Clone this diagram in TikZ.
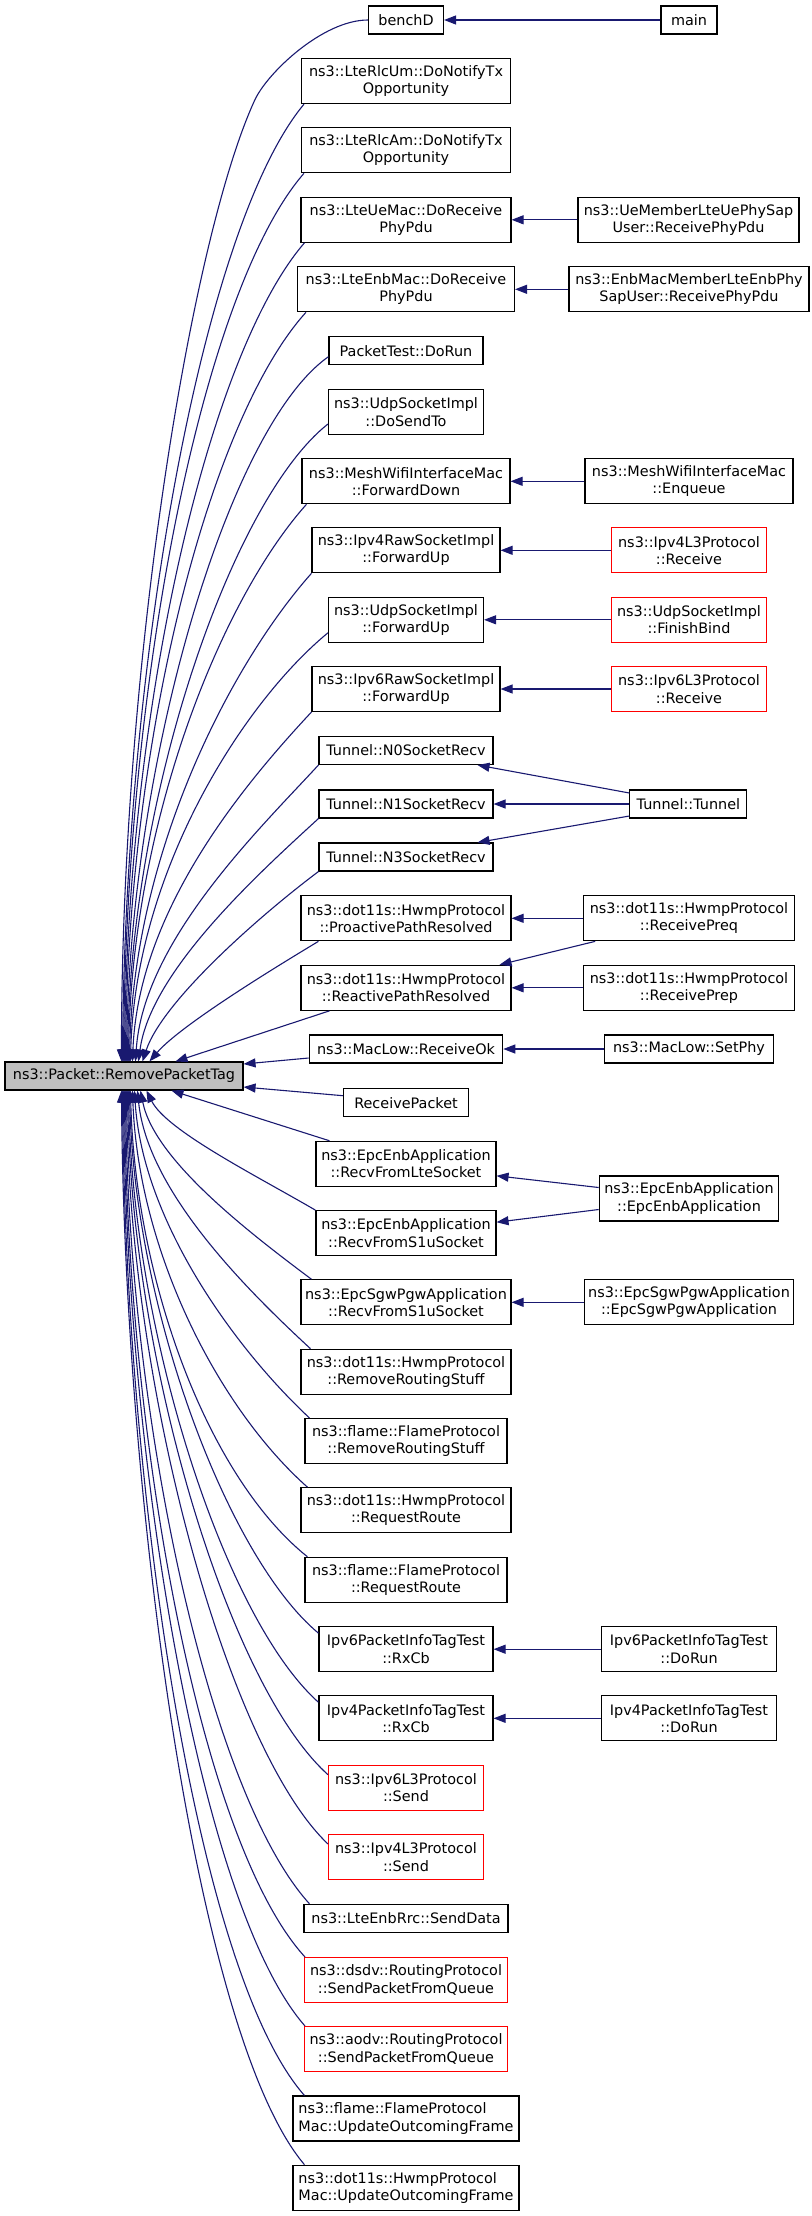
\documentclass[tikz,border=0pt]{standalone}
\usepackage{fontspec}
\setmainfont{DejaVu Sans}
\usetikzlibrary{arrows.meta,calc}
\definecolor{edgecol}{HTML}{191970}
\definecolor{redbox}{HTML}{FF0000}
\definecolor{mainfill}{HTML}{BFBFBF}
\begin{document}
\begin{tikzpicture}[x=1pt,y=-1pt,
  every node/.style={font=\fontsize{14.4pt}{17.3pt}\selectfont},
  fbox/.style={draw=black, line width=1.1pt, fill=white, inner sep=0pt, align=center, minimum height=28pt},
  tbox/.style={fbox, minimum height=45pt},
  rbox/.style={tbox, draw=redbox},
  mainbox/.style={fbox, fill=mainfill},
  edge/.style={draw=edgecol, line width=1.1pt, -{Triangle[length=12pt,width=9pt]}}]
\useasboundingbox (0,0) rectangle (811,2216);
% ---- left
\node[mainbox, minimum width=238pt] (main) at (124,1076) {ns3::Packet::RemovePacketTag};
% ---- middle column
\node[fbox, minimum width=75pt] (bench) at (406,20) {benchD};
\node[tbox, minimum width=209pt] (rlcum) at (406,81.2) {ns3::LteRlcUm::DoNotifyTx\\Opportunity};
\node[tbox, minimum width=209pt] (rlcam) at (406,150.3) {ns3::LteRlcAm::DoNotifyTx\\Opportunity};
\node[tbox, minimum width=210pt] (uemac) at (406,219.8) {ns3::LteUeMac::DoReceive\\PhyPdu};
\node[tbox, minimum width=217pt] (enbmac) at (406,289.3) {ns3::LteEnbMac::DoReceive\\PhyPdu};
\node[fbox, minimum width=154pt] (pkt) at (406,350.7) {PacketTest::DoRun};
\node[tbox, minimum width=155pt] (sendto) at (406,412) {ns3::UdpSocketImpl\\::DoSendTo};
\node[tbox, minimum width=208pt] (meshfd) at (406,481.3) {ns3::MeshWifiInterfaceMac\\::ForwardDown};
\node[tbox, minimum width=188pt] (ipv4raw) at (406,550.3) {ns3::Ipv4RawSocketImpl\\::ForwardUp};
\node[tbox, minimum width=155pt] (udpfu) at (406,619.8) {ns3::UdpSocketImpl\\::ForwardUp};
\node[tbox, minimum width=188pt] (ipv6raw) at (406,689) {ns3::Ipv6RawSocketImpl\\::ForwardUp};
\node[fbox, minimum width=174pt] (n0) at (406,750.5) {Tunnel::N0SocketRecv};
\node[fbox, minimum width=174pt] (n1) at (406,804) {Tunnel::N1SocketRecv};
\node[fbox, minimum width=174pt] (n3) at (406,857) {Tunnel::N3SocketRecv};
\node[tbox, minimum width=210pt] (proact) at (406,918.3) {ns3::dot11s::HwmpProtocol\\::ProactivePathResolved};
\node[tbox, minimum width=210pt] (react) at (406,987.8) {ns3::dot11s::HwmpProtocol\\::ReactivePathResolved};
\node[fbox, minimum width=193.5pt] (recvok) at (406,1049) {ns3::MacLow::ReceiveOk};
\node[fbox, minimum width=125pt] (rpkt) at (406,1102.7) {ReceivePacket};
\node[tbox, minimum width=180pt] (lte) at (406,1163.8) {ns3::EpcEnbApplication\\::RecvFromLteSocket};
\node[tbox, minimum width=180pt] (s1u) at (406,1233.2) {ns3::EpcEnbApplication\\::RecvFromS1uSocket};
\node[tbox, minimum width=210pt] (sgw) at (406,1302.3) {ns3::EpcSgwPgwApplication\\::RecvFromS1uSocket};
\node[tbox, minimum width=210pt] (rrs1) at (406,1371.7) {ns3::dot11s::HwmpProtocol\\::RemoveRoutingStuff};
\node[tbox, minimum width=202pt] (rrs2) at (406,1441) {ns3::flame::FlameProtocol\\::RemoveRoutingStuff};
\node[tbox, minimum width=210pt] (rr1) at (406,1510.2) {ns3::dot11s::HwmpProtocol\\::RequestRoute};
\node[tbox, minimum width=202pt] (rr2) at (406,1579.8) {ns3::flame::FlameProtocol\\::RequestRoute};
\node[tbox, minimum width=174pt] (rxcb6) at (406,1649.2) {Ipv6PacketInfoTagTest\\::RxCb};
\node[tbox, minimum width=174pt] (rxcb4) at (406,1718.3) {Ipv4PacketInfoTagTest\\::RxCb};
\node[rbox, minimum width=155pt] (send6) at (406,1787.7) {ns3::Ipv6L3Protocol\\::Send};
\node[rbox, minimum width=155pt] (send4) at (406,1857) {ns3::Ipv4L3Protocol\\::Send};
\node[fbox, minimum width=204pt] (senddata) at (406,1918.3) {ns3::LteEnbRrc::SendData};
\node[rbox, minimum width=203pt] (dsdv) at (406,1980) {ns3::dsdv::RoutingProtocol\\::SendPacketFromQueue};
\node[rbox, minimum width=203pt] (aodv) at (406,2049) {ns3::aodv::RoutingProtocol\\::SendPacketFromQueue};
\node[tbox, minimum width=226pt, align=left] (flamemac) at (406,2118.5) {ns3::flame::FlameProtocol\\Mac::UpdateOutcomingFrame};
\node[tbox, minimum width=226pt, align=left] (dotmac) at (406,2187.7) {ns3::dot11s::HwmpProtocol\\Mac::UpdateOutcomingFrame};
% ---- right column
\node[fbox, minimum width=56pt] (mainfn) at (689,20) {main};
\node[tbox, minimum width=221pt] (uemem) at (688.5,219.8) {ns3::UeMemberLteUePhySap\\User::ReceivePhyPdu};
\node[tbox, minimum width=240pt] (enbmem) at (689,289.3) {ns3::EnbMacMemberLteEnbPhy\\SapUser::ReceivePhyPdu};
\node[tbox, minimum width=208pt] (enq) at (689,481.3) {ns3::MeshWifiInterfaceMac\\::Enqueue};
\node[rbox, minimum width=155.5pt] (l3recv4) at (689,550.3) {ns3::Ipv4L3Protocol\\::Receive};
\node[rbox, minimum width=155.5pt] (finbind) at (689,619.8) {ns3::UdpSocketImpl\\::FinishBind};
\node[rbox, minimum width=155.5pt] (l3recv6) at (689,689) {ns3::Ipv6L3Protocol\\::Receive};
\node[fbox, minimum width=117pt] (tunnel) at (688.4,804) {Tunnel::Tunnel};
\node[tbox, minimum width=210.5pt] (preq) at (689,918.3) {ns3::dot11s::HwmpProtocol\\::ReceivePreq};
\node[tbox, minimum width=210.5pt] (prep) at (689,987.8) {ns3::dot11s::HwmpProtocol\\::ReceivePrep};
\node[fbox, minimum width=169pt] (setphy) at (689,1049) {ns3::MacLow::SetPhy};
\node[tbox, minimum width=179.5pt] (epcenb) at (689,1198.5) {ns3::EpcEnbApplication\\::EpcEnbApplication};
\node[tbox, minimum width=209pt] (epcsgw) at (689,1302.3) {ns3::EpcSgwPgwApplication\\::EpcSgwPgwApplication};
\node[tbox, minimum width=175pt] (dorun6) at (689,1649.2) {Ipv6PacketInfoTagTest\\::DoRun};
\node[tbox, minimum width=175pt] (dorun4) at (689,1718.3) {Ipv4PacketInfoTagTest\\::DoRun};
% ---- right-to-middle edges
\draw[edge] (mainfn.west) -- (bench.east);
\draw[edge] (uemem.west) -- (uemac.east);
\draw[edge] (enbmem.west) -- (enbmac.east);
\draw[edge] (enq.west) -- (meshfd.east);
\draw[edge] (l3recv4.west) -- (ipv4raw.east);
\draw[edge] (finbind.west) -- (udpfu.east);
\draw[edge] (l3recv6.west) -- (ipv6raw.east);
\draw[edge] ([yshift=11pt]tunnel.west) -- ([xshift=-16pt]n0.south east);
\draw[edge] (tunnel.west) -- (n1.east);
\draw[edge] ([yshift=-12pt]tunnel.west) -- ([xshift=-16pt]n3.north east);
\draw[edge] (preq.west) -- (proact.east);
\draw[edge] ([xshift=12pt]preq.south west) -- ([xshift=-12pt]react.north east);
\draw[edge] (prep.west) -- (react.east);
\draw[edge] (setphy.west) -- (recvok.east);
\draw[edge] ([yshift=11pt]epcenb.west) -- ([yshift=-12pt]lte.east);
\draw[edge] ([yshift=-11pt]epcenb.west) -- ([yshift=11pt]s1u.east);
\draw[edge] (epcsgw.west) -- (sgw.east);
\draw[edge] (dorun6.west) -- (rxcb6.east);
\draw[edge] (dorun4.west) -- (rxcb4.east);
% ---- middle-to-main edges (upper)
\coordinate (kb) at (254.8,100);
\draw[edge] (bench.west) .. controls +(-45,0) and +(12.6,-27.3) .. (kb) .. controls +(-63,136.5) and +(0,-400) .. ([xshift=117pt]main.north west);
\draw[edge] ([xshift=3pt]rlcum.south west) .. controls +(-100,120) and +(3,-410) .. ([xshift=118pt]main.north west);
\draw[edge] ([xshift=3pt]rlcam.south west) .. controls +(-100,115) and +(3,-390) .. ([xshift=119pt]main.north west);
\draw[edge] ([xshift=4pt]uemac.south west) .. controls +(-95,110) and +(3,-360) .. ([xshift=120pt]main.north west);
\draw[edge] ([xshift=9pt]enbmac.south west) .. controls +(-95,105) and +(3,-330) .. ([xshift=121pt]main.north west);
\draw[edge] ([yshift=-6pt]pkt.west) .. controls +(-100,70) and +(3,-300) .. ([xshift=122pt]main.north west);
\draw[edge] ([yshift=-12pt]sendto.west) .. controls +(-95,75) and +(3,-270) .. ([xshift=123pt]main.north west);
\draw[edge] ([xshift=5pt]meshfd.south west) .. controls +(-85,95) and +(3,-240) .. ([xshift=124pt]main.north west);
\draw[edge] (ipv4raw.south west) .. controls +(-80,90) and +(4,-210) .. ([xshift=125pt]main.north west);
\draw[edge] ([yshift=-13pt]udpfu.west) .. controls +(-85,70) and +(5,-190) .. ([xshift=126pt]main.north west);
\draw[edge] (ipv6raw.south west) .. controls +(-70,75) and +(6,-150) .. ([xshift=128pt]main.north west);
\draw[edge] (n0.south west) .. controls +(-60,65) and +(8,-120) .. ([xshift=131pt]main.north west);
\draw[edge] (n1.south west) .. controls +(-60,55) and +(12,-90) .. ([xshift=134pt]main.north west);
\draw[edge] (n3.south west) .. controls +(-60,45) and +(20,-60) .. ([xshift=138pt]main.north west);
\draw[edge] ([xshift=18pt]proact.south west) .. controls +(-50,30) and +(30,-35) .. ([xshift=145pt]main.north west);
\draw[edge] ([xshift=29pt]react.south west) -- ([xshift=171pt]main.north west);
\draw[edge] ([yshift=-9pt]recvok.west) -- ([yshift=12pt]main.east);
\draw[edge] ([yshift=7pt]rpkt.west) -- ([yshift=-11pt]main.east);
% ---- middle-to-main edges (lower)
\draw[edge] ([xshift=14pt]lte.north west) -- ([xshift=167pt]main.south west);
\draw[edge] (s1u.north west) .. controls +(-60,-35) and +(20,40) .. ([xshift=142pt]main.south west);
\draw[edge] ([xshift=11pt]sgw.north west) .. controls +(-60,-45) and +(14,70) .. ([xshift=136pt]main.south west);
\draw[edge] ([xshift=10pt]rrs1.north west) .. controls +(-65,-60) and +(10,100) .. ([xshift=133pt]main.south west);
\draw[edge] ([xshift=5pt]rrs2.north west) .. controls +(-75,-70) and +(8,130) .. ([xshift=130pt]main.south west);
\draw[edge] ([xshift=7pt]rr1.north west) .. controls +(-90,-80) and +(6,160) .. ([xshift=128pt]main.south west);
\draw[edge] ([xshift=3pt]rr2.north west) .. controls +(-100,-80) and +(5,190) .. ([xshift=126pt]main.south west);
\draw[edge] ([yshift=-7pt]rxcb6.north west) .. controls +(-90,-75) and +(5,220) .. ([xshift=125pt]main.south west);
\draw[edge] ([yshift=-7pt]rxcb4.north west) .. controls +(-95,-85) and +(4,240) .. ([xshift=124pt]main.south west);
\draw[edge] ([yshift=-10pt]send6.north west) .. controls +(-100,-90) and +(4,270) .. ([xshift=123pt]main.south west);
\draw[edge] ([yshift=-10pt]send4.north west) .. controls +(-100,-95) and +(3,300) .. ([xshift=122pt]main.south west);
\draw[edge] ([xshift=6pt]senddata.north west) .. controls +(-100,-110) and +(3,330) .. ([xshift=121pt]main.south west);
\draw[edge] ([xshift=1pt]dsdv.north west) .. controls +(-105,-115) and +(3,350) .. ([xshift=120pt]main.south west);
\draw[edge] ([xshift=1pt]aodv.north west) .. controls +(-105,-120) and +(3,370) .. ([xshift=119pt]main.south west);
\draw[edge] ([xshift=12pt]flamemac.north west) .. controls +(-110,-125) and +(3,390) .. ([xshift=118pt]main.south west);
\draw[edge] ([xshift=12pt]dotmac.north west) .. controls +(-110,-130) and +(3,400) .. ([xshift=117pt]main.south west);
\end{tikzpicture}
\end{document}
